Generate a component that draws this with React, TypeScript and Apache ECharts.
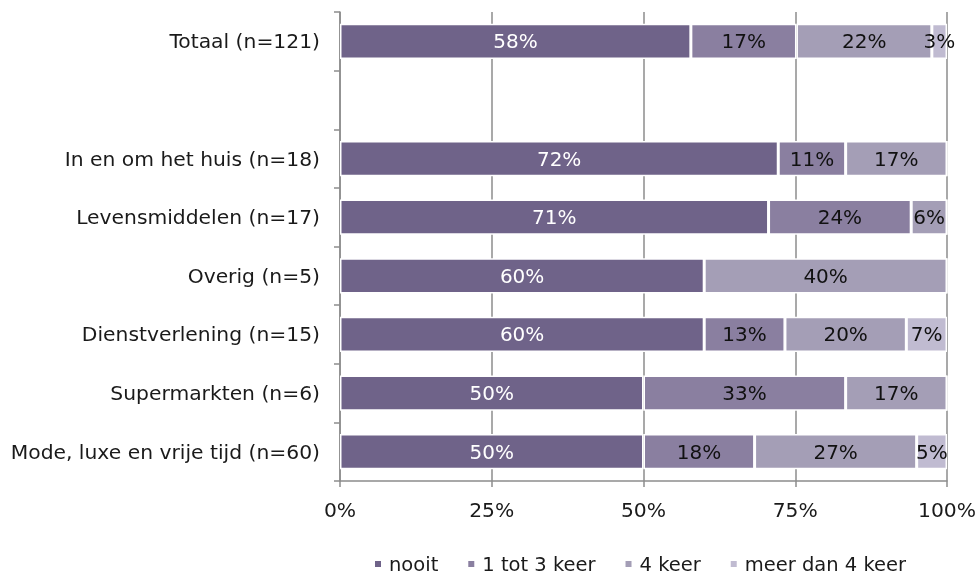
import React, { useEffect, useRef } from "react";
import * as echarts from "echarts";

const categories = [
  "Totaal (n=121)",
  "",
  "In en om het huis (n=18)",
  "Levensmiddelen (n=17)",
  "Overig (n=5)",
  "Dienstverlening (n=15)",
  "Supermarkten (n=6)",
  "Mode, luxe en vrije tijd (n=60)",
];

const seriesNames = ["nooit", "1 tot 3 keer", "4 keer", "meer dan 4 keer"];

const nooit = [57.8, "-", 72.2, 70.6, 60, 60, 50, 50];
const eenTotDrie = [17.4, "-", 11.1, 23.5, 0, 13.3, 33.3, 18.3];
const vierKeer = [22.3, "-", 16.7, 5.9, 40, 20, 16.7, 26.7];
const meerDanVier = [2.5, "-", 0, 0, 0, 6.7, 0, 5];

const xTicks = { min: 0, max: 100, interval: 25 };

const colors = ["#6f6389", "#8a7fa0", "#a49eb6", "#c0bbd1"];
const labelColors = ["#ffffff", "#111111", "#111111", "#111111"];

export default function App() {
  const ref = useRef<HTMLDivElement>(null);

  useEffect(() => {
    if (!ref.current) return;
    const chart = echarts.init(ref.current, null, { renderer: "svg" });
    const font = "DejaVu Sans";
    const fs = 20.3;
    const gray = "#8c8c8c";
    const dataSets = [nooit, eenTotDrie, vierKeer, meerDanVier];

    chart.setOption({
      animation: false,
      textStyle: { fontFamily: font },
      grid: { left: 340, right: 31, top: 12, bottom: 93, containLabel: false },
      legend: {
        data: seriesNames,
        left: 368,
        top: 549,
        icon: "rect",
        itemWidth: 8,
        itemHeight: 8,
        itemGap: 28,
        textStyle: {
          fontFamily: font,
          fontSize: 19.5,
          color: "#1a1a1a",
          lineHeight: 20,
          padding: [0, 0, 0, 2],
        },
      },
      xAxis: {
        type: "value",
        min: xTicks.min,
        max: xTicks.max,
        interval: xTicks.interval,
        axisLine: { show: true, lineStyle: { color: gray, width: 1.5 } },
        axisTick: { show: true, length: 6, lineStyle: { color: gray, width: 1.5 } },
        splitLine: { show: true, lineStyle: { color: gray, width: 1.5 } },
        axisLabel: {
          formatter: "{value}%",
          fontFamily: font,
          fontSize: fs,
          color: "#1a1a1a",
          margin: 19,
        },
      },
      yAxis: {
        type: "category",
        inverse: true,
        data: categories,
        axisLine: { show: true, lineStyle: { color: gray, width: 1.5 } },
        axisTick: { show: true, length: 6, lineStyle: { color: gray, width: 1.5 } },
        axisLabel: { fontFamily: font, fontSize: fs, color: "#1a1a1a", margin: 20 },
      },
      series: seriesNames.map((name, i) => ({
        name,
        type: "bar",
        stack: "total",
        barWidth: "60%",
        data: dataSets[i],
        itemStyle: { color: colors[i], borderColor: "#ffffff", borderWidth: 1.5 },
        label: {
          show: true,
          position: "inside",
          fontFamily: font,
          fontSize: 20,
          color: labelColors[i],
          formatter: (p: any) => {
            const v = Number(p.value);
            if (!v || isNaN(v)) return "";
            return Math.round(v) + "%";
          },
        },
      })),
    });

    return () => chart.dispose();
  }, []);

  return (
    <div
      ref={ref}
      style={{ position: "fixed", left: 0, top: 0, width: 979, height: 574 }}
    />
  );
}
